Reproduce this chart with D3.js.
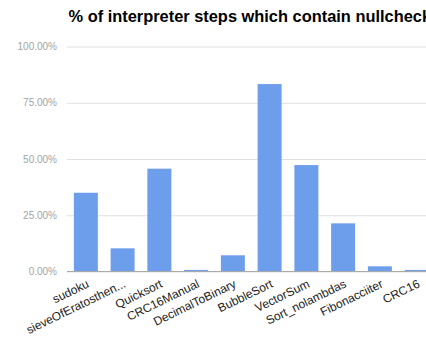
<!DOCTYPE html>
<html>
<head>
<meta charset="utf-8">
<script src="https://cdn.jsdelivr.net/npm/d3@7/dist/d3.min.js"></script>
<style>
  html, body { margin: 0; padding: 0; background: #fff; overflow: hidden; }
  svg { display: block; font-family: "Liberation Sans", Arial, sans-serif; }
</style>
</head>
<body>
<svg id="chart" width="426" height="340"></svg>
<script>
// Benchmarks and the share of interpreter steps that contain a null check
const categories = ["sudoku", "sieveOfEratosthen...", "Quicksort", "CRC16Manual", "DecimalToBinary",
                    "BubbleSort", "VectorSum", "Sort_nolambdas", "Fibonacciiter", "CRC16"];
const values = [0.350, 0.103, 0.457, 0.007, 0.072, 0.833, 0.473, 0.214, 0.023, 0.007];
const yTicks = [0, 0.25, 0.5, 0.75, 1.0];
const title = "% of interpreter steps which contain nullcheck";

const svg = d3.select("#chart");
const plot = { left: 67, right: 435, top: 46.5, bottom: 271.5 };

const x = d3.scaleBand()
  .domain(categories)
  .range([plot.left + 0.5, plot.right])
  .paddingInner(0.347)
  .paddingOuter(0.173);

const y = d3.scaleLinear()
  .domain([0, 1])
  .range([plot.bottom, plot.top]);

const fmt = d3.format(".2%");

// Title
svg.append("text")
  .attr("x", 68.5)
  .attr("y", 21.5)
  .attr("font-size", 16.4)
  .attr("font-weight", "bold")
  .attr("fill", "#000")
  .text(title);

// Horizontal gridlines
const yAxis = d3.axisLeft(y)
  .tickValues(yTicks)
  .tickFormat(fmt)
  .tickSize(-(plot.right - plot.left))
  .tickPadding(10);

const gy = svg.append("g")
  .attr("transform", `translate(${plot.left},0)`)
  .call(yAxis);
gy.select(".domain").remove();
gy.selectAll(".tick line").attr("stroke", "#e0e0e0").attr("stroke-width", 1);
gy.selectAll(".tick text")
  .attr("fill", "#a3a3a3")
  .attr("font-size", 10)
  .attr("font-family", "Liberation Sans, Arial, sans-serif");

// Bars
svg.append("g")
  .selectAll("rect")
  .data(categories.map((c, i) => ({ c, v: values[i] })))
  .join("rect")
  .attr("x", d => x(d.c))
  .attr("width", x.bandwidth())
  .attr("y", d => y(d.v))
  .attr("height", d => y(0) - y(d.v))
  .attr("fill", "#6d9eeb");

// Baseline
svg.append("line")
  .attr("x1", plot.left)
  .attr("x2", plot.right)
  .attr("y1", y(0))
  .attr("y2", y(0))
  .attr("stroke", "#aaaaaa")
  .attr("stroke-width", 1);

// Slanted category labels
const xAxis = d3.axisBottom(x).tickSize(0).tickPadding(0);
const gx = svg.append("g")
  .attr("transform", `translate(0,${plot.bottom})`)
  .call(xAxis);
gx.select(".domain").remove();
gx.selectAll(".tick text")
  .attr("fill", "#222")
  .attr("font-size", 12)
  .attr("font-family", "Liberation Sans, Arial, sans-serif")
  .attr("text-anchor", "end")
  .attr("dy", null)
  .attr("y", 0)
  .attr("transform", "translate(4,15) rotate(-26)");
</script>
</body>
</html>
